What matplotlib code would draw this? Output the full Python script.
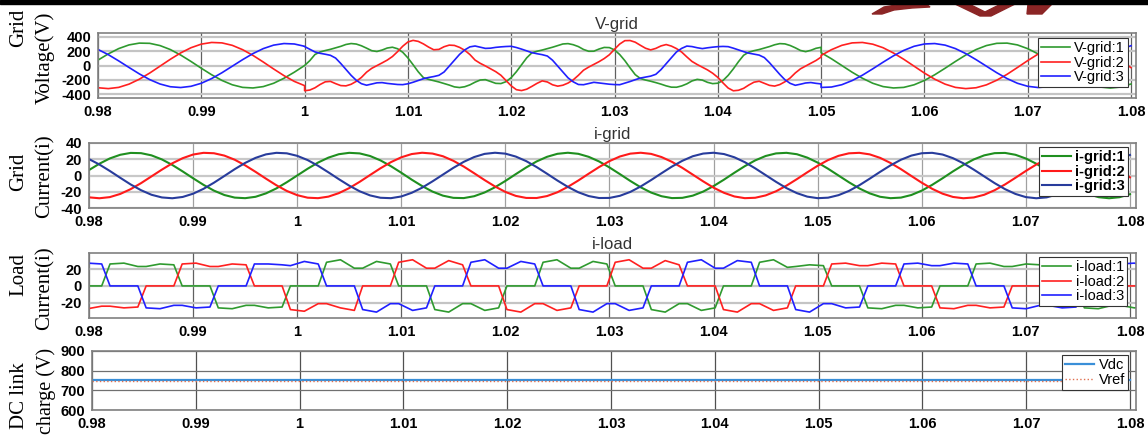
import numpy as np
import matplotlib
matplotlib.use("Agg")
import matplotlib.pyplot as plt
from matplotlib.patches import Rectangle, Polygon

# ---------------- data ----------------
# V-grid: three segments (before disturbance, distorted interval, after)
t_v_pre = np.round(0.98 + 0.001 * np.arange(21), 5)
t_v_mid = np.round(1.00 + 0.0005 * np.arange(101), 5)
t_v_post = np.round(1.05 + 0.001 * np.arange(31), 5)

vg1_pre = [75, 161, 234, 285, 310, 307, 276, 221, 145, 56, -38, -128, -207, -267, -303, -311, -292, -246, -177, -93, 0]
vg1_mid = [0, 67, 152, 188, 207, 224, 244, 265, 291, 304,
           297, 273, 240, 205, 194, 214, 242, 253, 232, 183,
           105, 11, -87, -168, -192, -210, -228, -249, -271, -296,
           -305, -294, -268, -231, -201, -196, -221, -247, -250, -224,
           -168, -86, 10, 106, 176, 197, 214, 233, 253, 276,
           298, 303, 288, 262, 222, 197, 198, 228, 250, 248,
           216, 152, 67, -32, -126, -180, -201, -218, -237, -258,
           -282, -300, -301, -283, -254, -214, -192, -202, -233, -251,
           -245, -208, -137, -47, 53, 142, 185, 205, 221, 242,
           262, 287, 303, 299, 277, 245, 208, 192, 210, 238,
           252]
vg1_post = [177, 93, 0, -93, -177, -246, -292, -311, -303, -267, -207, -128, -38, 56, 145, 221,
            276, 307, 310, 285, 233, 161, 74, -19, -111, -193, -257, -298, -312, -298, -256]

vg2_pre = [-308, -320, -303, -258, -190, -105, -10, 86, 174, 246, 296, 319, 313, 279, 219, 140, 48, -48, -140, -220, -279]
vg2_mid = [-349, -340, -309, -263, -226, -220, -251, -278, -282, -260,
           -220, -165, -92, -39, -2, 36, 75, 124, 192, 267,
           326, 348, 334, 299, 255, 218, 223, 260, 282, 278,
           251, 211, 152, 75, 30, -6, -45, -85, -135, -209,
           -282, -335, -347, -328, -289, -247, -213, -228, -267, -286,
           -273, -243, -199, -136, -65, -22, 15, 53, 96, 149,
           225, 297, 344, 346, 323, 280, 239, 216, 237, 271,
           290, 269, 234, 186, 119, 56, 14, -23, -61, -107,
           -165, -241, -312, -350, -343, -316, -270, -231, -218, -246,
           -275, -285, -264, -225, -173, -103, -46, -7, 31, 69,
           117]
vg2_post = [140, 219, 279, 313, 319, 295, 246, 173, 86, -10, -105, -190, -258, -303, -320, -308,
            -268, -204, -122, -28, 68, 158, 233, 288, 316, 316, 287, 233, 157, 67, -30]

vg3_pre = [222, 150, 64, -27, -116, -195, -256, -294, -305, -288, -246, -181, -100, -10, 81, 165, 234, 282, 304, 298, 266]
vg3_mid = [262, 225, 188, 169, 156, 141, 103, 28, -54, -136,
           -205, -252, -273, -256, -240, -237, -248, -256, -263, -265,
           -253, -232, -208, -183, -166, -153, -136, -90, -9, 71,
           154, 216, 258, 270, 253, 237, 240, 251, 258, 263,
           266, 249, 227, 202, 178, 163, 150, 131, 73, -9,
           -89, -171, -226, -263, -266, -249, -233, -242, -252, -259,
           -264, -266, -244, -222, -197, -174, -161, -147, -122, -57,
           26, 107, 188, 237, 269, 262, 246, 234, 245, 254,
           261, 264, 261, 240, 216, 192, 171, 158, 144, 110,
           39, -43, -124, -198, -247, -274, -259, -242, -236, -247,
           -255]
vg3_post = [-304, -298, -266, -209, -134, -46, 46, 134, 209, 266, 298, 304, 282, 234, 165, 81,
            -10, -100, -181, -246, -288, -305, -294, -256, -195, -116, -27, 64, 150, 222, 274]

# i-grid
t_i = np.round(0.98 + 0.001 * np.arange(101), 5)
ig1 = [6.7, 14.5, 21.0, 25.5, 27.8, 27.5, 24.8, 19.8, 13.0, 5.0,
       -3.4, -11.5, -18.6, -24.0, -27.2, -27.9, -26.2, -22.0, -15.9, -8.3,
       0.0, 8.3, 15.9, 22.0, 26.2, 27.9, 27.2, 24.0, 18.6, 11.5,
       3.4, -5.1, -13.0, -19.8, -24.8, -27.5, -27.8, -25.5, -20.9, -14.5,
       -6.7, 1.7, 9.9, 17.3, 23.0, 26.7, 28.0, 26.7, 23.0, 17.3,
       9.9, 1.7, -6.7, -14.5, -21.0, -25.5, -27.8, -27.5, -24.8, -19.8,
       -13.0, -5.1, 3.4, 11.5, 18.6, 24.0, 27.2, 27.9, 26.2, 22.0,
       15.9, 8.3, 0.0, -8.3, -15.9, -22.0, -26.2, -27.9, -27.2, -24.0,
       -18.6, -11.5, -3.4, 5.1, 13.0, 19.8, 24.8, 27.5, 27.8, 25.5,
       20.9, 14.5, 6.7, -1.7, -9.9, -17.3, -23.0, -26.7, -28.0, -26.7,
       -23.0]
ig2 = [-26.9, -28.0, -26.6, -22.7, -16.8, -9.4, -1.1, 7.2, 15.0, 21.3,
       25.8, 27.9, 27.4, 24.5, 19.4, 12.5, 4.5, -3.9, -12.0, -19.0,
       -24.2, -27.3, -27.9, -26.0, -21.7, -15.5, -7.8, 0.6, 8.9, 16.4,
       22.4, 26.4, 28.0, 27.0, 23.7, 18.1, 11.0, 2.8, -5.6, -13.5,
       -20.2, -25.1, -27.6, -27.7, -25.3, -20.6, -14.0, -6.2, 2.2, 10.4,
       17.7, 23.4, 26.9, 28.0, 26.6, 22.7, 16.8, 9.4, 1.1, -7.2,
       -15.0, -21.3, -25.8, -27.9, -27.4, -24.5, -19.4, -12.5, -4.5, 3.9,
       12.0, 19.0, 24.2, 27.3, 27.9, 26.0, 21.7, 15.4, 7.8, -0.6,
       -8.9, -16.4, -22.4, -26.4, -28.0, -27.0, -23.7, -18.1, -11.0, -2.8,
       5.6, 13.5, 20.2, 25.1, 27.6, 27.7, 25.3, 20.6, 14.0, 6.2,
       -2.2]
ig3 = [20.2, 13.5, 5.6, -2.8, -11.0, -18.1, -23.7, -27.0, -28.0, -26.4,
       -22.4, -16.4, -8.9, -0.6, 7.8, 15.5, 21.7, 26.0, 27.9, 27.3,
       24.2, 19.0, 12.0, 3.9, -4.5, -12.5, -19.4, -24.5, -27.4, -27.9,
       -25.8, -21.3, -15.0, -7.2, 1.1, 9.4, 16.8, 22.7, 26.6, 28.0,
       26.9, 23.3, 17.7, 10.4, 2.2, -6.2, -14.0, -20.6, -25.3, -27.7,
       -27.6, -25.0, -20.2, -13.5, -5.6, 2.8, 11.0, 18.1, 23.7, 27.0,
       28.0, 26.4, 22.4, 16.4, 8.8, 0.5, -7.8, -15.5, -21.7, -26.0,
       -27.9, -27.3, -24.2, -19.0, -12.0, -3.9, 4.5, 12.5, 19.4, 24.5,
       27.4, 27.9, 25.8, 21.3, 15.0, 7.2, -1.1, -9.4, -16.8, -22.7,
       -26.6, -28.0, -26.9, -23.3, -17.7, -10.4, -2.2, 6.2, 14.0, 20.6,
       25.3]

# i-load: commutation instants and (start, middle, end) level of each phase per interval
t_comm = [0.97815, 0.98162, 0.98509, 0.98855, 0.99202, 0.99549, 0.99895, 1.00242, 1.00589,
          1.00935, 1.01282, 1.01629, 1.01975, 1.02322, 1.02669, 1.03015, 1.03362, 1.03709,
          1.04055, 1.04402, 1.04749, 1.05095, 1.05442, 1.05789, 1.06135, 1.06482, 1.06829,
          1.07175, 1.07522, 1.07869, 1.08215]
il1 = [[0, 0, 0], [26, 27, 23], [23, 26, 25], [0, 0, 0], [-26, -27, -23], [-23, -26, -25],
       [0, 0, 0], [28, 31, 21], [21, 29, 26], [0, 0, 0], [-28, -31, -21], [-21, -29, -26],
       [0, 0, 0], [28, 31, 21], [21, 29, 26], [0, 0, 0], [-28, -31, -21], [-21, -29, -26],
       [0, 0, 0], [28, 31, 22], [23, 25, 24], [0, 0, 0], [-26, -27, -23], [-23, -26, -25],
       [0, 0, 0], [26, 27, 23], [23, 26, 25], [0, 0, 0], [-26, -27, -23], [-23, -26, -25]]
il2 = [[-26, -27, -24], [-24, -26, -25], [0, 0, 0], [26, 27, 23], [23, 26, 25], [0, 0, 0],
       [-28, -30, -21], [-21, -26, -29], [0, 0, 0], [28, 31, 21], [21, 30, 25], [0, 0, 0],
       [-28, -31, -21], [-21, -29, -26], [0, 0, 0], [28, 31, 21], [21, 30, 25], [0, 0, 0],
       [-28, -31, -21], [-21, -29, -26], [0, 0, 0], [26, 27, 24], [24, 27, 26], [0, 0, 0],
       [-26, -27, -23], [-23, -26, -25], [0, 0, 0], [26, 27, 23], [23, 26, 25], [0, 0, 0]]
il3 = [[28, 27, 26], [0, 0, 0], [-26, -27, -23], [-23, -26, -25], [0, 0, 0], [26, 26, 25],
       [24, 29, 26], [0, 0, 0], [-28, -31, -21], [-21, -29, -26], [0, 0, 0], [28, 31, 21],
       [21, 29, 26], [0, 0, 0], [-28, -31, -21], [-21, -29, -26], [0, 0, 0], [28, 31, 21],
       [21, 30, 28], [0, 0, 0], [-28, -31, -21], [-21, -26, -25], [0, 0, 0], [26, 27, 24],
       [24, 27, 26], [0, 0, 0], [-26, -27, -23], [-23, -26, -25], [0, 0, 0], [26, 27, 23]]

# DC link
t_dc = [0.98, 1.00, 1.02, 1.04, 1.06, 1.08]
vdc = [752, 752, 752, 752, 752, 752]
vref = [750, 750, 750, 750, 750, 750]

xticks = [0.98, 0.99, 1.00, 1.01, 1.02, 1.03, 1.04, 1.05, 1.06, 1.07, 1.08]
xticklabels = ["0.98", "0.99", "1", "1.01", "1.02", "1.03", "1.04", "1.05", "1.06", "1.07", "1.08"]

# ---------------- figure ----------------
W, H = 1148, 442
fig = plt.figure(figsize=(W / 100, H / 100), dpi=100)
fig.patch.set_facecolor("white")

def add_ax(l, t, r, b):
    return fig.add_axes([l / W, 1 - b / H, (r - l) / W, (b - t) / H])

TICKFONT = dict(family="Liberation Sans", weight="bold", size=10.5)
LABELFONT = "Liberation Serif"

def style(ax, xmax, ylim, yticks, vgrid_col, hgrid_col, hgrid_lw):
    ax.set_xlim(0.98, xmax)
    ax.set_ylim(*ylim)
    ax.set_xticks(xticks)
    ax.set_xticklabels(xticklabels, fontdict=TICKFONT)
    ax.set_yticks(yticks)
    ax.set_yticklabels([str(v) for v in yticks], fontdict=TICKFONT)
    ax.tick_params(length=0, pad=5)
    for x in xticks:
        ax.axvline(x, color=vgrid_col, lw=0.9, zorder=0)
    for y in yticks:
        ax.axhline(y, color=hgrid_col, lw=hgrid_lw, zorder=0)
    for s in ax.spines.values():
        s.set_color("#808080")
        s.set_linewidth(1.2)

def legend(ax, right, top, bold=False):
    prop = {"family": "Liberation Sans", "size": 10.5}
    if bold:
        prop["weight"] = "bold"
    leg = ax.legend(loc="upper right", bbox_to_anchor=(right / W, 1 - top / H),
                    bbox_transform=fig.transFigure, prop=prop, frameon=True,
                    fancybox=False, edgecolor="#333333", framealpha=1,
                    borderaxespad=0, borderpad=0.2, labelspacing=0.05,
                    handlelength=2.0, handletextpad=0.3)
    leg.get_frame().set_linewidth(0.8)
    return leg

GREEN, RED, BLUE = "#2f9a2f", "#ff2020", "#2020ff"

# Panel 1: V-grid
ax1 = add_ax(98, 33, 1136, 98)
t_v = np.concatenate([t_v_pre, t_v_mid, t_v_post])
ax1.plot(t_v, np.concatenate([vg1_pre, vg1_mid, vg1_post]), color=GREEN, lw=1.2, label="V-grid:1")
ax1.plot(t_v, np.concatenate([vg2_pre, vg2_mid, vg2_post]), color=RED, lw=1.2, label="V-grid:2")
ax1.plot(t_v, np.concatenate([vg3_pre, vg3_mid, vg3_post]), color=BLUE, lw=1.2, label="V-grid:3")
style(ax1, 1.08048, (-450, 450), [-400, -200, 0, 200, 400], "#606060", "#c4c4c4", 1.6)
ax1.set_title("V-grid", fontsize=12, family="Liberation Sans", color="#333333", pad=3)
legend(ax1, 1128, 38)

# Panel 2: i-grid
ax2 = add_ax(89, 143, 1136, 208)
ax2.plot(t_i, ig1, color="#1f8f1f", lw=1.5, label="i-grid:1")
ax2.plot(t_i, ig2, color="#ff1a1a", lw=1.5, label="i-grid:2")
ax2.plot(t_i, ig3, color="#283c9c", lw=1.5, label="i-grid:3")
style(ax2, 1.08058, (-40, 40), [-40, -20, 0, 20, 40], "#a0a0a0", "#c8c8c8", 1.6)
ax2.set_title("i-grid", fontsize=12, family="Liberation Sans", color="#333333", pad=3)
legend(ax2, 1128, 147, bold=True)

# Panel 3: i-load
ax3 = add_ax(89, 253, 1136, 318)
tc = np.array(t_comm)
t_load = np.column_stack([tc[:-1] + 0.0004, (tc[:-1] + tc[1:]) / 2, tc[1:] - 0.0004]).ravel()
ax3.plot(t_load, np.array(il1).ravel(), color=GREEN, lw=1.2, label="i-load:1")
ax3.plot(t_load, np.array(il2).ravel(), color=RED, lw=1.2, label="i-load:2")
ax3.plot(t_load, np.array(il3).ravel(), color=BLUE, lw=1.2, label="i-load:3")
style(ax3, 1.08058, (-38, 39), [-20, 0, 20], "#606060", "#c4c4c4", 1.6)
ax3.set_title("i-load", fontsize=12, family="Liberation Sans", color="#333333", pad=3)
legend(ax3, 1127, 257)

# Panel 4: DC link
ax4 = add_ax(92, 351, 1136, 410)
ax4.plot(t_dc, vdc, color="#3a8fd8", lw=1.6, label="Vdc")
ax4.plot(t_dc, vref, color="#e07050", lw=1.0, ls=":", label="Vref")
style(ax4, 1.08058, (600, 900), [600, 700, 800, 900], "#505050", "#707070", 0.9)
legend(ax4, 1128, 355)

# y labels (two rotated lines each)
def ylab(txt, x, y, size=15):
    fig.text(x / W, 1 - y / H, txt, rotation=90, ha="center", va="center",
             family=LABELFONT, fontsize=size)

ylab("Grid", 19, 28)
ylab("Voltage(V)", 45, 58)
ylab("Grid", 19, 172)
ylab("Current(i)", 45, 176)
ylab("Load", 19, 275)
ylab("Current(i)", 45, 288)
ylab("DC link", 19, 396)
ylab("charge (V)", 46, 391, size=14.5)

# top black band and partial watermark
def fp(pts):
    return [(x / W, 1 - y / H) for x, y in pts]

fig.patches.append(Rectangle((0, 1 - 4 / H), 1, 4 / H, transform=fig.transFigure,
                             color="black", zorder=5))
wm = "#8b2525"
for pts in ([(872, 14), (884, 7), (902, 4), (926, 4), (930, 7), (912, 8), (894, 10), (882, 14)],
            [(955, 4), (969, 4), (985, 12), (1001, 4), (1015, 4), (991, 16), (980, 16)],
            [(1028, 4), (1052, 4), (1042, 14), (1027, 14)]):
    fig.patches.append(Polygon(fp(pts), closed=True, transform=fig.transFigure,
                               color=wm, zorder=4))

fig.savefig("out.png", dpi=100)
